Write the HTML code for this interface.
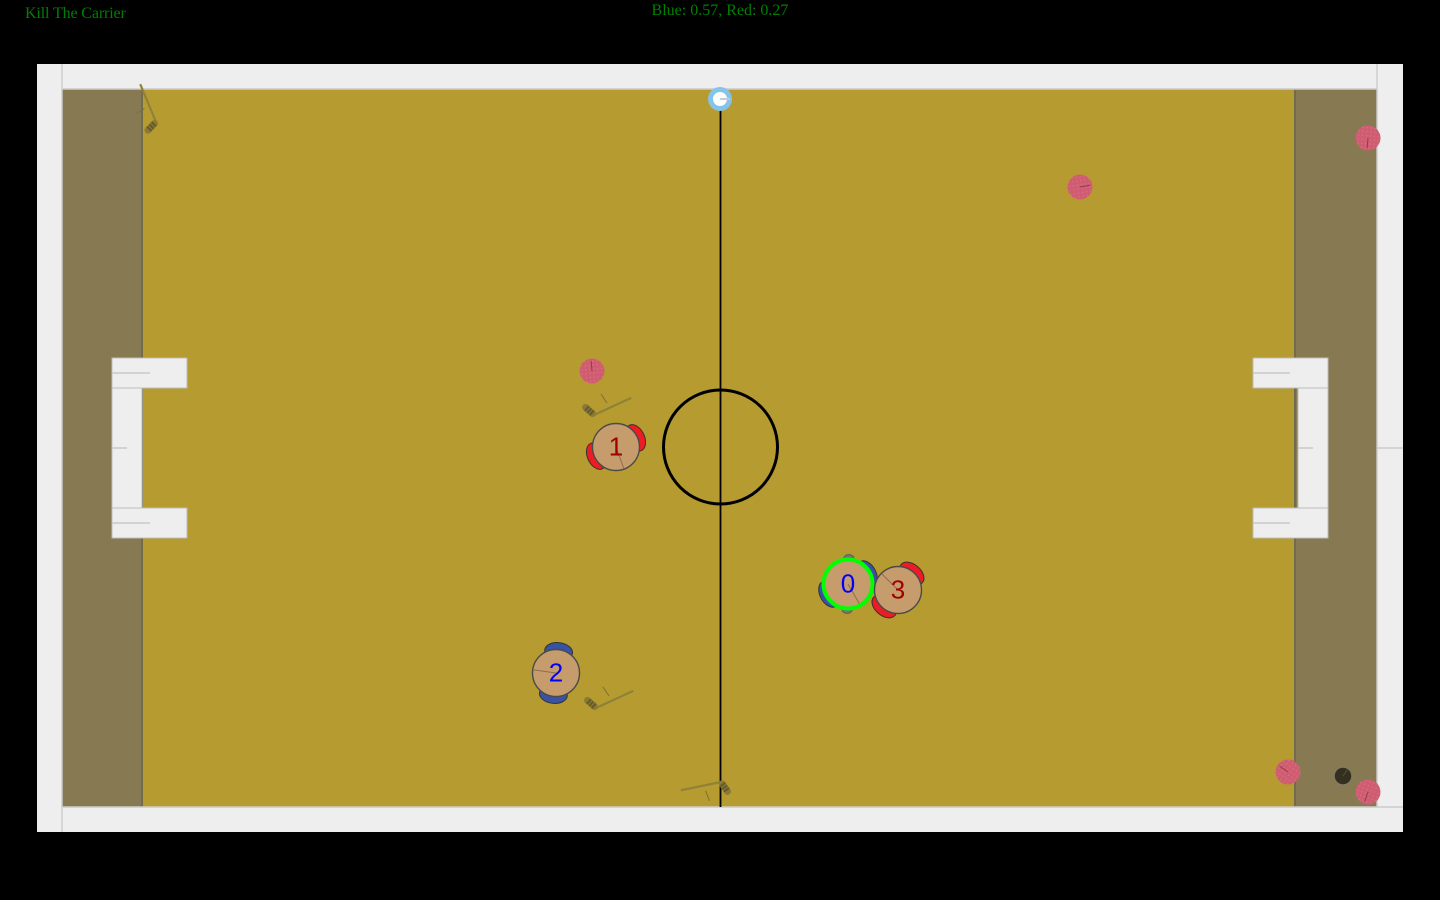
<!DOCTYPE html>
<html lang="en">
<head>
<meta charset="utf-8">
<title>Kill The Carrier</title>
<style>
html,body{margin:0;padding:0;background:#000;width:1440px;height:900px;overflow:hidden}
svg{display:block;position:absolute;left:0;top:0}
.hud{position:absolute;font-family:"Liberation Serif",serif;font-size:16px;color:#008000;line-height:18px;white-space:nowrap}
</style>
</head>
<body>
<div class="hud" style="left:25px;top:5px;letter-spacing:-0.13px">Kill The Carrier</div>
<div class="hud" style="left:520px;width:400px;text-align:center;top:2px">Blue: 0.57, Red: 0.27</div>
<svg id="arena" width="1440" height="900" viewBox="0 0 1440 900" xmlns="http://www.w3.org/2000/svg">
  <defs>
    <pattern id="pink-dots" width="4" height="4" patternUnits="userSpaceOnUse">
      <rect width="4" height="4" fill="#cf5c70"/>
      <rect x="1" y="1" width="1.5" height="1.5" fill="#d66d80"/>
    </pattern>
  </defs>
  <g>
    <rect x="37" y="64" width="1366" height="768" fill="#eeeeee"/>
    <rect x="62" y="89" width="1315" height="718" fill="#b69c30"/>
    <rect x="62" y="89" width="80" height="718" fill="#877a52"/>
    <rect x="1294" y="89" width="83" height="718" fill="#877a52"/>
    <rect x="141" y="89" width="2" height="718" fill="#706c50"/>
    <rect x="1294" y="89" width="2" height="718" fill="#706c50"/>
    <path d="M62 64V89M62 89H1377M1377 64V807M62 807V832M62 89V807M62 807H1403M1377 448H1403" fill="none" stroke="#cccccc" stroke-width="1.4"/>
  </g>
  <g fill="#eeeeee" stroke="#bdbdbd" stroke-width="1">
    <rect x="112" y="388" width="30" height="120"/>
    <rect x="112" y="358" width="75" height="30"/>
    <rect x="112" y="508" width="75" height="30"/>
    <path d="M112 373H150M112 448H127M112 523H150" stroke="#c8c8c8" stroke-width="1.4" fill="none"/>
  </g>
  <g fill="#eeeeee" stroke="#bdbdbd" stroke-width="1">
    <rect x="1298" y="388" width="30" height="120"/>
    <rect x="1253" y="358" width="75" height="30"/>
    <rect x="1253" y="508" width="75" height="30"/>
    <path d="M1253 373H1290M1298 448H1313M1253 523H1290" stroke="#c8c8c8" stroke-width="1.4" fill="none"/>
  </g>
  <g>
    <line x1="720.5" y1="108" x2="720.5" y2="807" stroke="#000" stroke-width="1.8"/>
    <circle cx="720.5" cy="447" r="57" fill="none" stroke="#000" stroke-width="3"/>
  </g>
  <g id="entities"></g>
</svg>
<script>
// Arena-space values: units from the field centre (1 unit = 10 screen px).
const playerLabels = ['0', '1', '2', '3'];
const playerTeams = ['blue', 'red', 'blue', 'red'];
const playerX = [12.8, -10.4, -16.4, 17.8];
const playerY = [13.7, 0.0, 22.6, 14.3];
const playerShoulderAngle = [-28, -25, -83, -50];
const playerFacingAngle = [60, 70, 188, 225];
const carrierIndex = 0;

const ballKinds = ['pink', 'pink', 'pink', 'pink', 'pink', 'black', 'flag'];
const ballX = [-12.8, 36.0, 64.8, 56.8, 64.8, 62.3, 0.0];
const ballY = [-7.6, -26.0, -30.9, 32.5, 34.5, 32.9, -34.8];
const ballTickAngle = [-95, -10, 95, 215, 110, -55, 0];

const stickX = [-12.6, -12.4, 0.1, -56.4];
const stickY = [-3.2, 26.1, 33.5, -32.5];
const stickAngle = [-24.7, -24.7, 168.4, 247.4];

const centreX = 720, centreY = 447;
const xScale = v => centreX + v * 10;
const yScale = v => centreY + v * 10;

const svgNS = 'http://www.w3.org/2000/svg';
const root = document.getElementById('entities');
function mk(parent, tag, attrs) {
  const el = document.createElementNS(svgNS, tag);
  for (const k in attrs) el.setAttribute(k, attrs[k]);
  parent.appendChild(el);
  return el;
}

stickX.forEach((v, i) => {
  const g = mk(root, 'g', { transform: `translate(${xScale(v)} ${yScale(stickY[i])}) rotate(${stickAngle[i]})` });
  
  
  mk(g, 'line', { x1: 0, y1: 0, x2: 41, y2: 0, stroke: '#8f8238', 'stroke-width': 2.2 });
  mk(g, 'line', { x1: -0.8, y1: -2, x2: -4.5, y2: -10.5, stroke: '#8a7a35', 'stroke-width': 7, 'stroke-linecap': 'round' });
  mk(g, 'line', { x1: -0.8, y1: -2, x2: -4.5, y2: -10.5, stroke: '#645a2a', 'stroke-width': 6, 'stroke-dasharray': '2 1.2' });
  mk(g, 'line', { x1: 15.1, y1: -16.1, x2: 16.8, y2: -5.5, stroke: '#7d6f35', 'stroke-width': 1 });
});

ballX.forEach((v, i) => {
  const kind = ballKinds[i];
  const g = mk(root, 'g', { transform: `translate(${xScale(v)} ${yScale(ballY[i])}) rotate(${ballTickAngle[i]})` });
  
  
  if (kind === 'pink') {
    mk(g, 'circle', { r: 12.5, fill: 'url(#pink-dots)' });
    mk(g, 'line', { x1: 0, y1: 0, x2: 10, y2: 0, stroke: '#8c3f4c', 'stroke-width': 1 });
  } else if (kind === 'black') {
    mk(g, 'circle', { r: 8.5, fill: '#33301f', stroke: '#777', 'stroke-width': 0.6 });
    mk(g, 'line', { x1: 0, y1: 0, x2: 8, y2: 0, stroke: '#55502f', 'stroke-width': 1 });
  } else {
    mk(g, 'circle', { r: 12, fill: '#85c4ea' });
    mk(g, 'circle', { r: 7, fill: '#ffffff' });
    mk(g, 'line', { x1: 0, y1: 0, x2: 10, y2: 0, stroke: '#c4cdd2', 'stroke-width': 2 });
  }
});

playerX.forEach((v, i) => {
  const cx = xScale(v), cy = yScale(playerY[i]);
  const blue = playerTeams[i] === 'blue';
  const g = mk(root, 'g', {});
  
  
  const a = playerShoulderAngle[i];
  if (i === carrierIndex) {
    [a - 60, a + 120].forEach(t => {
      mk(g, 'ellipse', { cx: 26, cy: 0, rx: 3.5, ry: 5, fill: '#77746a', stroke: '#555', 'stroke-width': 0.8, transform: `translate(${cx} ${cy}) rotate(${t})` });
    });
  }
  [0, 180].forEach(off => {
    mk(g, 'ellipse', {
      cx: 21.5, cy: 0, rx: 9, ry: 14,
      fill: blue ? '#3953a4' : '#ed1c24',
      stroke: '#333', 'stroke-width': 1,
      transform: `translate(${cx} ${cy}) rotate(${a + off})`
    });
  });
  mk(g, 'circle', { cx, cy, r: 23.5, fill: '#c69c6d', stroke: '#4a4a4a', 'stroke-width': 1.4 });
  const f = playerFacingAngle[i];
  mk(g, 'line', { x1: 0, y1: 0, x2: 22.5, y2: 0, stroke: '#8a6f50', 'stroke-width': 1, transform: `translate(${cx} ${cy}) rotate(${f})` });
  const label = mk(g, 'text', {
    x: cx, y: cy + 8.5, 'text-anchor': 'middle',
    'font-family': '"Liberation Sans", sans-serif', 'font-size': 26,
    fill: blue ? '#0000ff' : '#a00000'
  });
  label.textContent = playerLabels[i];
  
  
  if (i === carrierIndex) {
    const ring = mk(g, 'circle', { cx, cy, r: 24.5, fill: 'none', stroke: '#00ff00', 'stroke-width': 4 });
    
    
  }
});
</script>
</body>
</html>
